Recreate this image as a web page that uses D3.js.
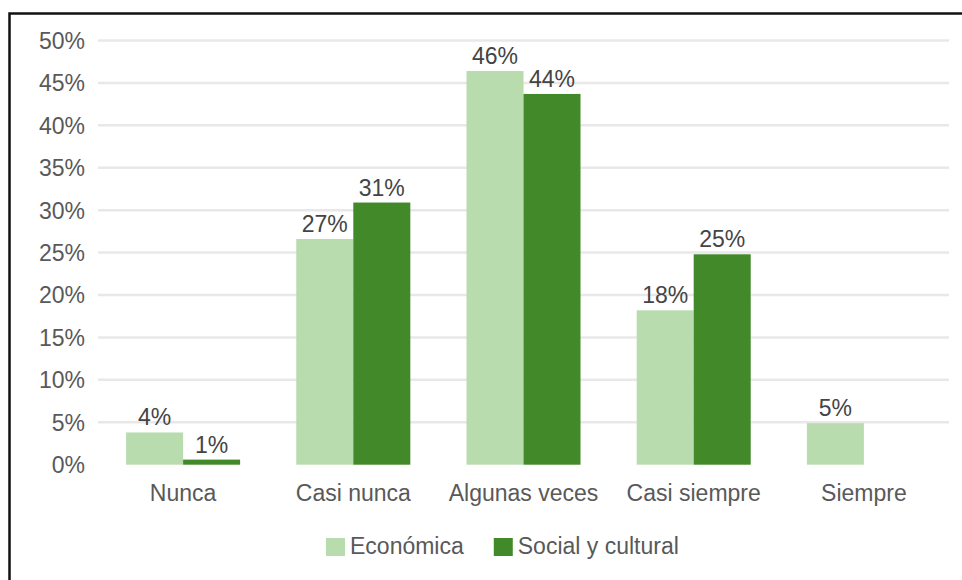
<!DOCTYPE html>
<html>
<head>
<meta charset="utf-8">
<script src="https://cdn.jsdelivr.net/npm/d3@7"></script>
<style>
html,body{margin:0;padding:0;background:#fff;}
svg{display:block;}
text{font-family:"Liberation Sans",Arial,sans-serif;}
</style>
</head>
<body>
<svg id="chart" width="962" height="580"></svg>
<script>
const categories = ["Nunca", "Casi nunca", "Algunas veces", "Casi siempre", "Siempre"];
const seriesNames = ["Económica", "Social y cultural"];
const economica = [3.8, 26.6, 46.4, 18.2, 4.9];
const social = [0.6, 30.9, 43.7, 24.8, 0];
const yTicks = [0, 5, 10, 15, 20, 25, 30, 35, 40, 45, 50];
const colors = ["#b9dcaf", "#42892a"];

const svg = d3.select("#chart");
const FS = 23;

// frame
svg.append("rect").attr("x", 9.5).attr("y", 13.5).attr("width", 1000).attr("height", 700)
  .attr("fill", "none").attr("stroke", "#111").attr("stroke-width", 2.5);

const x = d3.scaleBand().domain(categories).range([98, 949]).padding(0);
const x1 = d3.scaleBand().domain(seriesNames)
  .range([x.bandwidth() * 0.165, x.bandwidth() * 0.835]).padding(0);
const y = d3.scaleLinear().domain([0, 50]).range([464.7, 40.5]);

// gridlines
svg.append("g").selectAll("line").data(yTicks.filter(t => t > 0)).join("line")
  .attr("x1", 98).attr("x2", 949)
  .attr("y1", d => y(d)).attr("y2", d => y(d))
  .attr("stroke", "#e8e8e8").attr("stroke-width", 2.5);

// y axis labels
const yAxis = d3.axisLeft(y).tickValues(yTicks).tickFormat(d => d + "%").tickSize(0).tickPadding(0);
const gy = svg.append("g").attr("transform", "translate(85,0)").call(yAxis);
gy.select(".domain").remove();
gy.selectAll("text").attr("font-size", FS).attr("fill", "#595959")
  .attr("font-family", "Liberation Sans, Arial, sans-serif").attr("dy", "0.34em");

// x axis labels
const xAxis = d3.axisBottom(x).tickSize(0).tickPadding(0);
const gx = svg.append("g").attr("transform", "translate(0,484)").call(xAxis);
gx.select(".domain").remove();
gx.selectAll("text").attr("font-size", FS).attr("fill", "#595959")
  .attr("font-family", "Liberation Sans, Arial, sans-serif").attr("dy", "0.75em");

// bars
const data = categories.map((c, i) => ({ cat: c, vals: [economica[i], social[i]] }));
const groups = svg.append("g").selectAll("g").data(data).join("g")
  .attr("transform", d => `translate(${x(d.cat)},0)`);

groups.selectAll("rect").data(d => d.vals.map((v, j) => ({ s: seriesNames[j], v, j })).filter(e => e.v > 0))
  .join("rect")
  .attr("x", e => x1(e.s)).attr("width", x1.bandwidth())
  .attr("y", e => y(e.v)).attr("height", e => y(0) - y(e.v))
  .attr("fill", e => colors[e.j]);

groups.selectAll("text").data(d => d.vals.map((v, j) => ({ s: seriesNames[j], v, j })).filter(e => e.v > 0))
  .join("text")
  .attr("x", e => x1(e.s) + x1.bandwidth() / 2)
  .attr("y", e => y(e.v) - 7)
  .attr("text-anchor", "middle")
  .attr("font-size", FS).attr("fill", "#444")
  .text(e => Math.round(e.v) + "%");

// legend
const legend = svg.append("g");
let lx = 326;
seriesNames.forEach((s, j) => {
  legend.append("rect").attr("x", lx).attr("y", 538).attr("width", 19).attr("height", 18).attr("fill", colors[j]);
  const t = legend.append("text").attr("x", lx + 24).attr("y", 554)
    .attr("font-size", FS).attr("fill", "#595959").text(s);
  lx = lx + 24 + t.node().getComputedTextLength() + 30;
});
</script>
</body>
</html>
